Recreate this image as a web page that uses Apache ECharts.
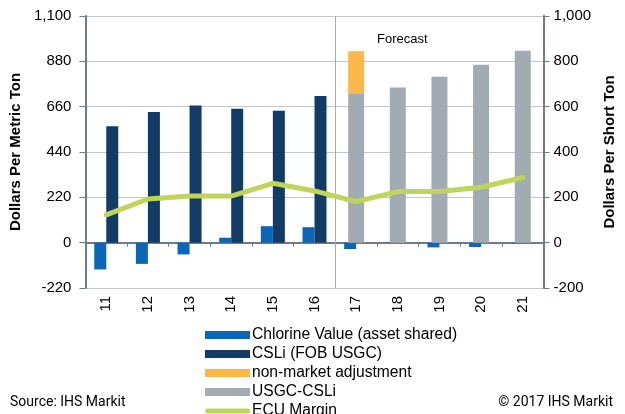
<!DOCTYPE html>
<html>
<head>
<meta charset="utf-8">
<script src="https://cdn.jsdelivr.net/npm/echarts@6/dist/echarts.min.js"></script>
<style>
  html, body { margin: 0; padding: 0; background: #fff; }
  #chart { width: 625px; height: 414px; }
</style>
</head>
<body>
<div id="chart"></div>
<script>
// years (20xx)
var categories = ['11', '12', '13', '14', '15', '16', '17', '18', '19', '20', '21'];
var firstForecast = '17';
// $/metric ton (left axis)
var chlorineValue = [-130, -103, -57, 24, 80, 75, -31, 3, -23, -21, -3];
var csli = [565, 634, 666, 650, 640, 712, null, null, null, null, null];
var ecuMargin = [135, 212, 226, 226, 288, 251, 199, 248, 248, 269, 316];
// $/short ton (right axis)
var usgcCsli = [null, null, null, null, null, null, 659, 685, 732, 785, 847];
var nonMarketAdj = [null, null, null, null, null, null, 186, null, null, null, null];
var leftTicks = { min: -220, max: 1100, interval: 220 };
var rightTicks = { min: -200, max: 1000, interval: 200 };

var FONT = 'Liberation Sans, Arial, sans-serif';
var axisColor = '#6e7b8b';

var chart = echarts.init(document.getElementById('chart'));

function commas(v) {
    return echarts.format.addCommas(v);
}

var option = {
    animation: false,
    textStyle: { fontFamily: FONT },
    grid: { left: 85, right: 80, top: 16, bottom: 126 },
    legend: {
        orient: 'vertical',
        left: 205,
        top: 327,
        height: 100,
        padding: 0,
        itemWidth: 45,
        itemHeight: 8,
        itemGap: 3,
        textStyle: { fontSize: 15.6, color: '#000', fontFamily: FONT, padding: [0, 0, 0, -3] },
        data: [
            { name: 'Chlorine Value (asset shared)', icon: 'rect' },
            { name: 'CSLi (FOB USGC)', icon: 'rect' },
            { name: 'non-market adjustment', icon: 'rect' },
            { name: 'USGC-CSLi', icon: 'rect' },
            { name: 'ECU Margin', icon: 'path://M2.5,0 H42.5 A2.5,2.5 0 0 1 42.5,5 H2.5 A2.5,2.5 0 0 1 2.5,0 Z' }
        ]
    },
    xAxis: [{
        type: 'category',
        data: categories,
        position: 'bottom',
        axisLine: { onZero: true, lineStyle: { color: axisColor, width: 2 } },
        axisTick: { show: true, length: 4, lineStyle: { color: axisColor } },
        axisLabel: { show: false },
        splitLine: { show: false }
    }, {
        type: 'category',
        data: categories,
        position: 'bottom',
        axisLine: { show: false, onZero: false },
        axisTick: { show: false },
        axisLabel: { rotate: 90, fontSize: 15, color: '#000', margin: 8, fontFamily: FONT },
        splitLine: { show: false }
    }],
    yAxis: [{
        type: 'value',
        min: leftTicks.min,
        max: leftTicks.max,
        interval: leftTicks.interval,
        name: 'Dollars Per Metric Ton',
        nameLocation: 'middle',
        nameGap: 58,
        nameTextStyle: { fontSize: 15, fontWeight: 'bold', color: '#000', fontFamily: FONT },
        axisLine: { show: true, lineStyle: { color: axisColor, width: 2 } },
        axisTick: { show: true, length: 6, lineStyle: { color: axisColor } },
        axisLabel: { fontSize: 15, color: '#000', margin: 14, formatter: commas, fontFamily: FONT },
        splitLine: { show: true, lineStyle: { color: '#c3c7cc', width: 1 } }
    }, {
        type: 'value',
        min: rightTicks.min,
        max: rightTicks.max,
        interval: rightTicks.interval,
        position: 'right',
        name: 'Dollars Per Short Ton',
        nameLocation: 'middle',
        nameGap: 58,
        nameTextStyle: { fontSize: 15, fontWeight: 'bold', color: '#000', fontFamily: FONT },
        axisLine: { show: true, lineStyle: { color: axisColor, width: 2 } },
        axisTick: { show: true, length: 6, lineStyle: { color: axisColor } },
        axisLabel: { fontSize: 15, color: '#000', margin: 10, formatter: commas, fontFamily: FONT },
        splitLine: { show: false }
    }],
    series: [{
        name: 'Chlorine Value (asset shared)',
        type: 'bar',
        xAxisIndex: 0,
        yAxisIndex: 0,
        data: chlorineValue,
        barWidth: 12,
        barGap: '0%',
        itemStyle: { color: '#0a66b8' }
    }, {
        name: 'CSLi (FOB USGC)',
        type: 'bar',
        xAxisIndex: 0,
        yAxisIndex: 0,
        data: csli,
        barWidth: 12,
        barGap: '0%',
        itemStyle: { color: '#123b66' }
    }, {
        name: 'USGC-CSLi',
        type: 'bar',
        xAxisIndex: 1,
        yAxisIndex: 1,
        stack: 'forecast',
        data: usgcCsli,
        barWidth: 16,
        itemStyle: { color: '#a2abb2' }
    }, {
        name: 'non-market adjustment',
        type: 'bar',
        xAxisIndex: 1,
        yAxisIndex: 1,
        stack: 'forecast',
        data: nonMarketAdj,
        barWidth: 16,
        itemStyle: { color: '#fbb747' }
    }, {
        name: 'ECU Margin',
        type: 'line',
        xAxisIndex: 0,
        yAxisIndex: 0,
        data: ecuMargin,
        symbol: 'none',
        z: 5,
        lineStyle: { color: '#bfd55a', width: 5, cap: 'round' },
        itemStyle: { color: '#bfd55a' }
    }],
    graphic: [{
        type: 'text',
        left: 377,
        top: 33,
        style: { text: 'Forecast', fontSize: 13, fill: '#000', fontFamily: FONT }
    }, {
        type: 'text',
        left: 10,
        top: 395,
        style: { text: 'Source: IHS Markit', fontSize: 14, fill: '#000', fontFamily: 'Roboto, sans-serif' }
    }, {
        type: 'text',
        right: 12,
        top: 395,
        style: { text: '\u00a9 2017 IHS Markit', fontSize: 14, fill: '#000', fontFamily: 'Roboto, sans-serif' }
    }]
};

chart.setOption(option);

// forecast divider: between the last actual year and the first forecast year
var idx = categories.indexOf(firstForecast);
var xPrev = chart.convertToPixel({ xAxisIndex: 0 }, categories[idx - 1]);
var xNext = chart.convertToPixel({ xAxisIndex: 0 }, categories[idx]);
var xDiv = Math.round((xPrev + xNext) / 2) + 0.5;
var yTop = chart.convertToPixel({ yAxisIndex: 0 }, leftTicks.max);
var yBot = chart.convertToPixel({ yAxisIndex: 0 }, leftTicks.min);
chart.setOption({
    graphic: [{
        type: 'line',
        id: 'forecastDivider',
        shape: { x1: xDiv, y1: yTop, x2: xDiv, y2: yBot },
        style: { stroke: '#a4abb4', lineWidth: 1 },
        z: 1
    }]
});
</script>
</body>
</html>
